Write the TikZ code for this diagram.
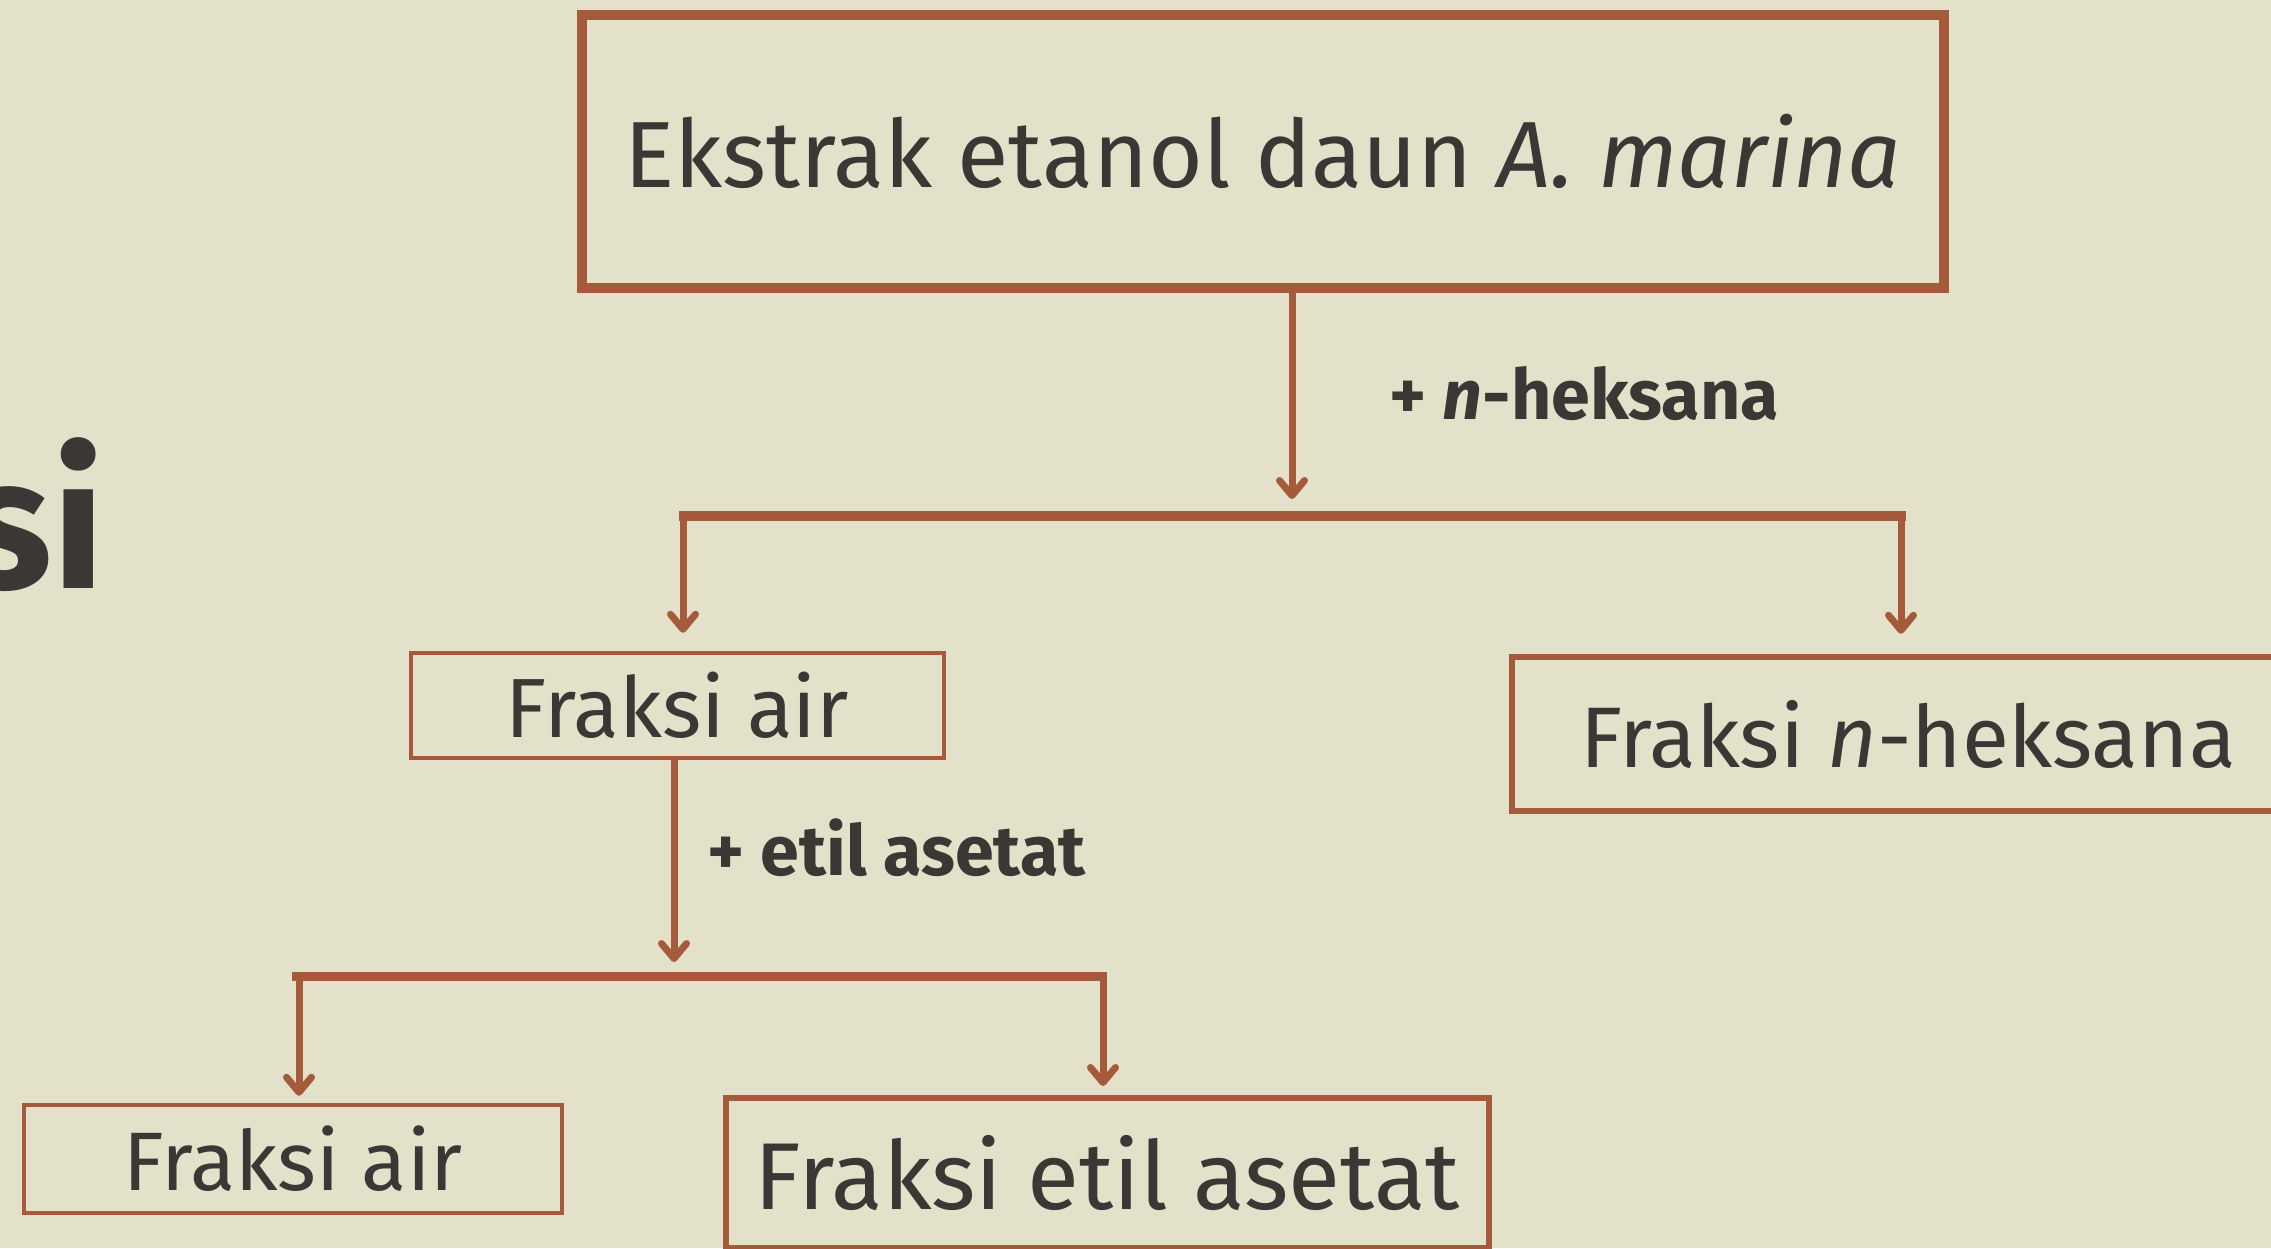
\documentclass[tikz,border=0pt]{standalone}
\usepackage{fontspec}
\setmainfont{Fira Sans}
\usetikzlibrary{arrows.meta}
\definecolor{bg}{HTML}{E4E1CB}
\definecolor{rust}{HTML}{A65A3C}
\definecolor{ink}{HTML}{3B3734}
\begin{document}
\begin{tikzpicture}[x=1pt,y=-1pt,
  box/.style={draw=rust, rectangle, inner sep=0pt, text=ink, align=center},
  lbl/.style={inner sep=0pt, text=ink, font=\bfseries\fontsize{70}{80}\selectfont},
  arr/.style={draw=rust, line width=7pt, -{Straight Barb[round,length=15pt,width=25pt]}},
  bar/.style={draw=rust, line width=10pt}]
\useasboundingbox (0,0) rectangle (2271,1248);
\clip (0,0) rectangle (2271,1248);
\fill[bg] (0,0) rectangle (2271,1248);

\node[text=ink, inner sep=0pt, anchor=base east, font=\bfseries\fontsize{186}{200}\selectfont] (title) at (105,588) {si};

\node[box, line width=10pt, minimum width=1362pt, minimum height=273pt,
      font=\fontsize{94}{110}\selectfont] (top) at (1263,151.5) {Ekstrak etanol daun \textit{A. marina}};

\node[box, line width=4.5pt, minimum width=533pt, minimum height=105pt,
      font=\fontsize{84}{100}\selectfont] (air1) at (677.5,705.5) {Fraksi air};

\node[box, line width=6.5pt, minimum width=792pt, minimum height=154pt,
      font=\fontsize{86}{100}\selectfont] (nhex) at (1908,734) {Fraksi \textit{n}-heksana};

\node[box, line width=4.5pt, minimum width=538pt, minimum height=108pt,
      font=\fontsize{83}{100}\selectfont] (air2) at (293,1159) {Fraksi air};

\node[box, line width=6pt, minimum width=763pt, minimum height=150pt,
      font=\fontsize{95}{110}\selectfont] (etil) at (1107.5,1173) {Fraksi etil asetat};

% first split
\coordinate (j1) at (1292,499);
\coordinate (b1l) at (679,516);
\coordinate (b1r) at (1906,516);
\coordinate (d1l) at (683,516);
\coordinate (d1r) at (1901,516);
\draw[arr] (top.south -| j1) -- (j1);
\node[lbl, anchor=base west] (l1) at (1389,419) {+ \textit{n}-heksana};
\draw[bar] (b1l) -- (b1r);
\draw[arr, shorten >=18pt] (d1l) -- (air1.north -| d1l);
\draw[arr, shorten >=20pt] (d1r) -- (nhex.north -| d1r);

% second split
\coordinate (j2) at (674,962);
\coordinate (b2l) at (292,976);
\coordinate (b2r) at (1107,976);
\coordinate (d2l) at (299,976);
\coordinate (d2r) at (1103,976);
\draw[arr] (air1.south -| j2) -- (j2);
\node[lbl, anchor=base west] (l2) at (707,875) {+ etil asetat};
\draw[bar, line width=9pt] (b2l) -- (b2r);
\draw[arr, shorten >=7pt] (d2l) -- (air2.north -| d2l);
\draw[arr, shorten >=9pt] (d2r) -- (etil.north -| d2r);
\end{tikzpicture}
\end{document}
